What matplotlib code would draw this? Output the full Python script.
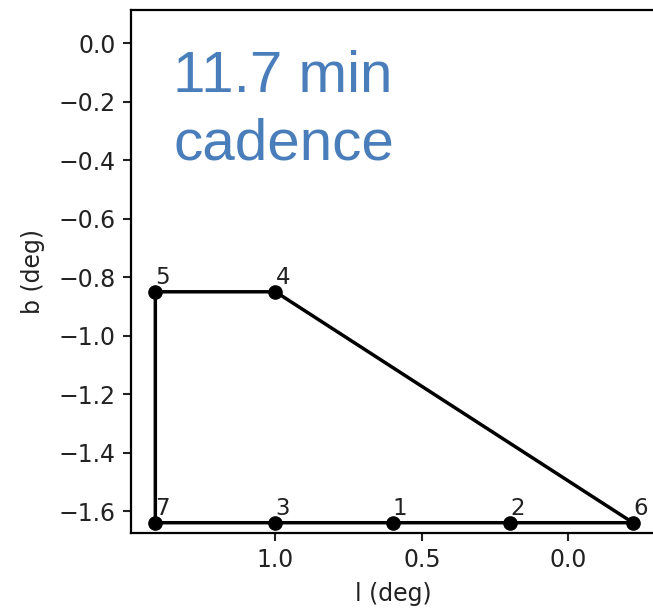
import matplotlib
matplotlib.use("Agg")
from matplotlib import pyplot as plt

# pointing positions (galactic l, b in deg) and their numbers
point_ids = [1, 2, 3, 4, 5, 6, 7]
l_deg = [0.6, 0.2, 1.0, 1.0, 1.41, -0.22, 1.41]
b_deg = [-1.64, -1.64, -1.64, -0.85, -0.85, -1.64, -1.64]

# order in which the outline is drawn
outline = [5, 4, 6, 2, 1, 3, 7, 5]

x_ticks = [1.0, 0.5, 0.0]
y_ticks = [0.0, -0.2, -0.4, -0.6, -0.8, -1.0, -1.2, -1.4, -1.6]


def main():
    fig = plt.figure(figsize=(6.53, 6.10), dpi=100)
    ax = fig.add_axes([131 / 653, 77.5 / 610, 525.4 / 653, 522.5 / 610])

    xs = [l_deg[point_ids.index(i)] for i in outline]
    ys = [b_deg[point_ids.index(i)] for i in outline]
    ax.plot(xs, ys, color='black', lw=2.5)
    # markers once per pointing
    ax.plot(l_deg, b_deg, 'o', color='black', ms=9.5)

    for pid, l, b in zip(point_ids, l_deg, b_deg):
        ax.annotate(str(pid), (l, b), xytext=(0, 2), textcoords='offset points',
                    ha='left', va='bottom', fontsize=16.5, color='#222222')

    ax.set_xlim(1.493, -0.3)
    ax.set_ylim(-1.6735, 0.114)
    ax.set_xticks(x_ticks)
    ax.set_yticks(y_ticks)
    ax.set_xticklabels([f"{t:.1f}" for t in x_ticks])
    ax.set_yticklabels([f"{t:.1f}".replace("-", "\u2212") for t in y_ticks])
    ax.tick_params(labelsize=17, length=6, width=1.5, pad=5, colors='#222222')
    for s in ax.spines.values():
        s.set_linewidth(1.6)
    ax.set_xlabel('l (deg)', fontsize=17, color='#222222', labelpad=7)
    ax.set_ylabel('b (deg)', fontsize=17, color='#222222', labelpad=10)

    ax.text(0.08, 0.924, '11.7 min\ncadence', transform=ax.transAxes,
            fontsize=42, color='#4a7ebb', family='Liberation Sans',
            ha='left', va='top', linespacing=1.33)

    fig.savefig('out.png', dpi=100)


if __name__ == '__main__':
    main()
